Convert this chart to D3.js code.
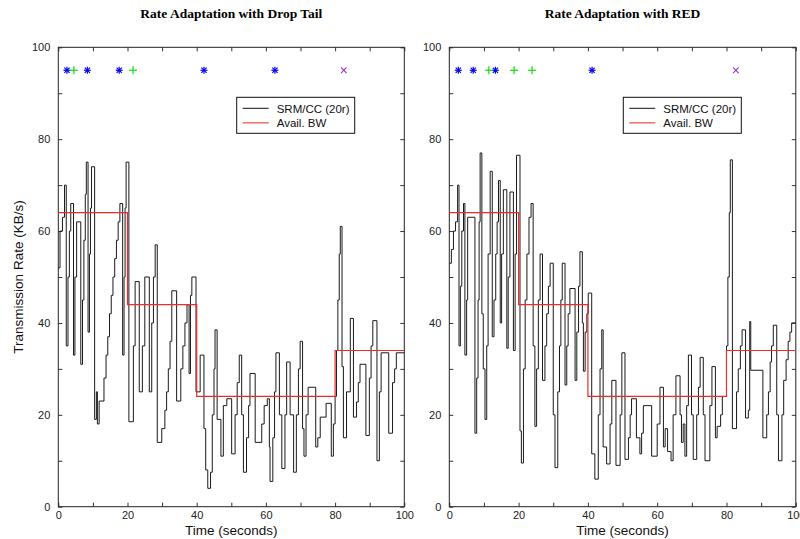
<!DOCTYPE html>
<html>
<head>
<meta charset="utf-8">
<script src="https://cdnjs.cloudflare.com/ajax/libs/d3/7.8.5/d3.min.js"></script>
<style>
  body { margin: 0; background: #fff; }
  svg { display: block; }
</style>
</head>
<body>
<svg id="chart" width="800" height="539"></svg>
<script>
// step traces (time in seconds, rate in KB/s)
const dropTailTime = [0,0.5,1.2,1.8,2.3,2.8,3.2,3.6,4.4,4.8,5.3,6.5,7.0,7.4,7.8,8.1,8.6,9.0,9.3,9.6,10.5,11.0,11.3,11.8,
  13.2,13.8,14.3,14.8,15.3,15.8,16.3,16.8,17.3,17.8,18.6,19.0,19.3,19.6,20.4,21.7,22.2,23.4,24.3,25.0,26.3,27.0,27.5,28.0,
  28.6,29.9,30.8,31.3,31.8,32.3,32.8,34.2,35.4,36.0,36.6,37.2,37.8,38.2,38.6,39.8,41.0,42.1,42.6,43.2,44.0,44.5,45.0,45.3,
  45.9,47.0,47.7,48.7,50.1,51.1,51.7,52.3,53.0,53.5,54.4,55.0,55.4,56.9,58.8,59.5,60.4,61.0,61.2,62.0,62.5,62.9,63.9,64.6,
  65.5,66.0,67.0,68.0,68.8,69.4,69.9,70.6,71.0,71.6,72.2,74.4,75.0,75.7,77.4,78.9,79.5,80.0,80.4,80.8,81.2,81.5,82.0,82.4,
  83.3,84.4,85.3,86.2,86.7,87.2,88.9,89.9,90.4,90.9,92.1,92.8,93.3,95.5,96.6,97.2,97.7,100];
const dropTailRate = [52,60,63,70,35,50,60,66,33,50,62,31,45,58,68,75,38,55,65,74,19,25,18,23,
  28,33,37,42,46,50,54,58,62,66,33,50,65,75,18.5,35,49,25,35,50,25,40,50,57,
  14,17,21,25,30,36,47,23,30,35,40,44,29,46,50,25,33,17,8,4,7.5,20,30,38.5,
  19,11,22,23.5,11.5,20,27,33,20,7.5,15,22,29,14,18,22,23.5,13,5.5,15,25,33.5,20,8.3,
  20,31.5,20,7.5,20,30,36,17,11,20,26,13,15,19.5,22.5,11,18,24,34,45,55,61,30.5,15,
  25,41,19.5,22.8,27,31,15.5,28,35,40.5,10,25,33.5,16,27,30,33.5,33.5];

const redTime = [0,0.6,1.2,1.8,2.4,2.8,3.2,3.6,4.1,4.5,5.0,5.3,7.4,7.9,8.3,8.6,8.9,9.4,9.8,10.3,10.8,11.2,11.8,12.4,
  12.9,13.4,13.8,14.2,14.7,15.1,15.6,16.6,17.0,17.5,18.5,19.0,19.4,20.4,20.8,21.4,21.9,22.4,23.0,23.6,24.2,24.7,25.2,25.7,
  26.2,26.9,27.6,28.1,28.6,29.1,30.0,30.5,31.3,31.8,32.2,32.6,33.4,33.9,34.3,34.8,36.3,36.8,37.3,37.7,38.4,38.7,39.2,39.7,
  40.1,41.1,42.0,43.0,43.5,44.0,44.4,45.4,46.4,46.9,48.1,49.3,49.8,50.7,51.7,52.2,52.6,54.0,55.0,55.5,56.0,58.4,60.0,60.8,
  61.8,62.3,63.0,64.0,64.6,65.4,66.6,67.0,67.5,68.0,68.5,69.0,69.9,70.4,71.4,71.9,72.4,73.3,73.8,75.2,75.8,76.8,77.3,78.3,
  78.8,80.0,80.4,80.8,81.1,81.7,82.9,83.4,84.0,84.5,85.5,86.3,86.7,87.0,90.5,91.6,92.1,92.6,93.0,93.5,94.5,95.0,96.0,96.5,
  97.2,97.8,98.3,98.8,100];
const redRate = [53,56,60,62,70,35,48,60,66,33,45,63,16,28,45,62,77,42,30,19,35,55,73,37,
  45,55,62,71,40,55,69,34.5,50,68.5,34,55,76.5,16.5,9.5,30,45,55,63,66,35,17.5,30,45,
  55,27.5,35,42,48,53,20,8.5,25,35,45,53,26.5,35,42,47.5,27.5,38,48,55.5,40,29.5,38,42,
  46.5,11.5,6,20,30,38.5,13,9.3,18,27.5,9,20,33.5,10.3,15,20,23.5,15,11.5,16,22,11,18,26,
  13,17,12,10,20,28.5,20,14,18,11,22,33,20,10.3,20,26,32.5,20,10,22,30.5,15,17.5,20,
  24,35,50,64,75.5,17,25,30,35,38.5,19.3,21,40.3,29.7,15,20,25,31.5,35,39.5,20,10,20,27.5,
  32,36,38,40,40];

// available bandwidth steps
const bwTime = [0, 20, 40, 80, 100];
const bwRate = [64, 44, 24, 34, 34];

// event markers along the top (time in seconds, drawn at 95 KB/s)
const markLevel = 95;
const dropTailStars = [2.5, 8.4, 17.6, 42.1, 62.6];
const dropTailPlus = [4.5, 21.6];
const dropTailCross = [82.5];
const redStars = [2.6, 6.9, 13.3, 41.2];
const redPlus = [11.4, 18.7, 23.9];
const redCross = [82.7];

const xTicks = [0, 20, 40, 60, 80, 100];
const yTicks = [0, 20, 40, 60, 80, 100];

const svg = d3.select("#chart");

function drawPanel(p) {
  const x = d3.scaleLinear().domain([0, 100]).range([p.left, p.right]);
  const y = d3.scaleLinear().domain([0, 100]).range([506.7, 47.3]);
  const g = svg.append("g");

  // title
  g.append("text")
    .attr("x", (p.left + p.right) / 2)
    .attr("y", 18)
    .attr("text-anchor", "middle")
    .attr("font-family", "Liberation Serif, Times New Roman, serif")
    .attr("font-weight", "bold")
    .attr("font-size", 13.5)
    .text(p.title);

  // frame ticks (inward on all four sides)
  const minor = d3.range(0, 101, 10);
  g.append("g").attr("transform", `translate(0,${y(0)})`)
    .call(d3.axisBottom(x).tickValues(minor).tickSize(-4).tickFormat(""))
    .call(a => a.select(".domain").remove());
  g.append("g").attr("transform", `translate(0,${y(100)})`)
    .call(d3.axisTop(x).tickValues(minor).tickSize(-4).tickFormat(""))
    .call(a => a.select(".domain").remove());
  g.append("g").attr("transform", `translate(${x(0)},0)`)
    .call(d3.axisLeft(y).tickValues(minor).tickSize(-4).tickFormat(""))
    .call(a => a.select(".domain").remove());
  g.append("g").attr("transform", `translate(${x(100)},0)`)
    .call(d3.axisRight(y).tickValues(minor).tickSize(-4).tickFormat(""))
    .call(a => a.select(".domain").remove());
  g.selectAll(".tick line").attr("stroke", "#333");

  // tick labels
  g.append("g").attr("transform", `translate(0,${y(0)})`)
    .call(d3.axisBottom(x).tickValues(xTicks).tickSize(0).tickPadding(5))
    .call(a => a.select(".domain").remove())
    .selectAll("text").attr("font-size", 11).attr("font-family", "Liberation Sans, Arial, sans-serif").attr("fill", "#222");
  g.append("g").attr("transform", `translate(${x(0)},0)`)
    .call(d3.axisLeft(y).tickValues(yTicks).tickSize(0).tickPadding(8))
    .call(a => a.select(".domain").remove())
    .selectAll("text").attr("font-size", 11).attr("font-family", "Liberation Sans, Arial, sans-serif").attr("fill", "#222");

  g.append("rect")
    .attr("x", x(0)).attr("y", y(100))
    .attr("width", x(100) - x(0)).attr("height", y(0) - y(100))
    .attr("fill", "none").attr("stroke", "#222").attr("stroke-width", 1);

  const step = d3.line().curve(d3.curveStepAfter)
    .x(d => x(d[0])).y(d => y(d[1]));

  const plot = g.append("g");
  plot.append("path")
    .datum(p.time.map((t, i) => [t, p.rate[i]]))
    .attr("d", step)
    .attr("fill", "none").attr("stroke", "#1a1a1a").attr("stroke-width", 1);

  plot.append("path")
    .datum(bwTime.map((t, i) => [t, bwRate[i]]))
    .attr("d", step)
    .attr("fill", "none").attr("stroke", "#ee2a2a").attr("stroke-width", 1.2);

  // markers
  const my = y(markLevel);
  p.stars.forEach(t => {
    const cx = x(t), r = 3.5, rd = 2.6;
    const s = plot.append("g").attr("stroke", "#0000ee").attr("stroke-width", 1.2);
    s.append("line").attr("x1", cx - r).attr("x2", cx + r).attr("y1", my).attr("y2", my);
    s.append("line").attr("x1", cx).attr("x2", cx).attr("y1", my - r).attr("y2", my + r);
    s.append("line").attr("x1", cx - rd).attr("x2", cx + rd).attr("y1", my - rd).attr("y2", my + rd);
    s.append("line").attr("x1", cx - rd).attr("x2", cx + rd).attr("y1", my + rd).attr("y2", my - rd);
  });
  p.plus.forEach(t => {
    const cx = x(t), r = 4;
    const s = plot.append("g").attr("stroke", "#11dd11").attr("stroke-width", 1.2);
    s.append("line").attr("x1", cx - r).attr("x2", cx + r).attr("y1", my).attr("y2", my);
    s.append("line").attr("x1", cx).attr("x2", cx).attr("y1", my - r).attr("y2", my + r);
  });
  p.cross.forEach(t => {
    const cx = x(t), r = 2.8;
    const s = plot.append("g").attr("stroke", "#9933cc").attr("stroke-width", 1.1);
    s.append("line").attr("x1", cx - r).attr("x2", cx + r).attr("y1", my - r).attr("y2", my + r);
    s.append("line").attr("x1", cx - r).attr("x2", cx + r).attr("y1", my + r).attr("y2", my - r);
  });

  // legend
  const lx = p.legendX, ly = 97.3;
  const leg = g.append("g");
  leg.append("rect").attr("x", lx).attr("y", ly).attr("width", 118).attr("height", 36)
    .attr("fill", "#fff").attr("stroke", "#111").attr("stroke-width", 1);
  leg.append("line").attr("x1", lx + 6).attr("x2", lx + 32).attr("y1", ly + 11).attr("y2", ly + 11)
    .attr("stroke", "#111").attr("stroke-width", 1);
  leg.append("line").attr("x1", lx + 6).attr("x2", lx + 32).attr("y1", ly + 25.5).attr("y2", ly + 25.5)
    .attr("stroke", "#f06060").attr("stroke-width", 1.4);
  leg.append("text").attr("x", lx + 40).attr("y", ly + 15.5)
    .attr("font-family", "Liberation Sans, Arial, sans-serif").attr("font-size", 11.5).attr("fill", "#111")
    .text("SRM/CC (20r)");
  leg.append("text").attr("x", lx + 40).attr("y", ly + 30)
    .attr("font-family", "Liberation Sans, Arial, sans-serif").attr("font-size", 11.5).attr("fill", "#111")
    .text("Avail. BW");

  // x label
  g.append("text")
    .attr("x", (p.left + p.right) / 2).attr("y", 535)
    .attr("text-anchor", "middle")
    .attr("font-family", "Liberation Sans, Arial, sans-serif").attr("font-size", 13.5).attr("fill", "#111")
    .text("Time (seconds)");
}

drawPanel({
  title: "Rate Adaptation with Drop Tail",
  left: 58.3, right: 404.3, legendX: 236.7,
  time: dropTailTime, rate: dropTailRate,
  stars: dropTailStars, plus: dropTailPlus, cross: dropTailCross
});
drawPanel({
  title: "Rate Adaptation with RED",
  left: 449.3, right: 795.8, legendX: 623.3,
  time: redTime, rate: redRate,
  stars: redStars, plus: redPlus, cross: redCross
});

// y label
svg.append("text")
  .attr("transform", "translate(23,277) rotate(-90)")
  .attr("text-anchor", "middle")
  .attr("font-family", "Liberation Sans, Arial, sans-serif").attr("font-size", 13.5).attr("fill", "#111")
  .text("Transmission Rate (KB/s)");
</script>
</body>
</html>
